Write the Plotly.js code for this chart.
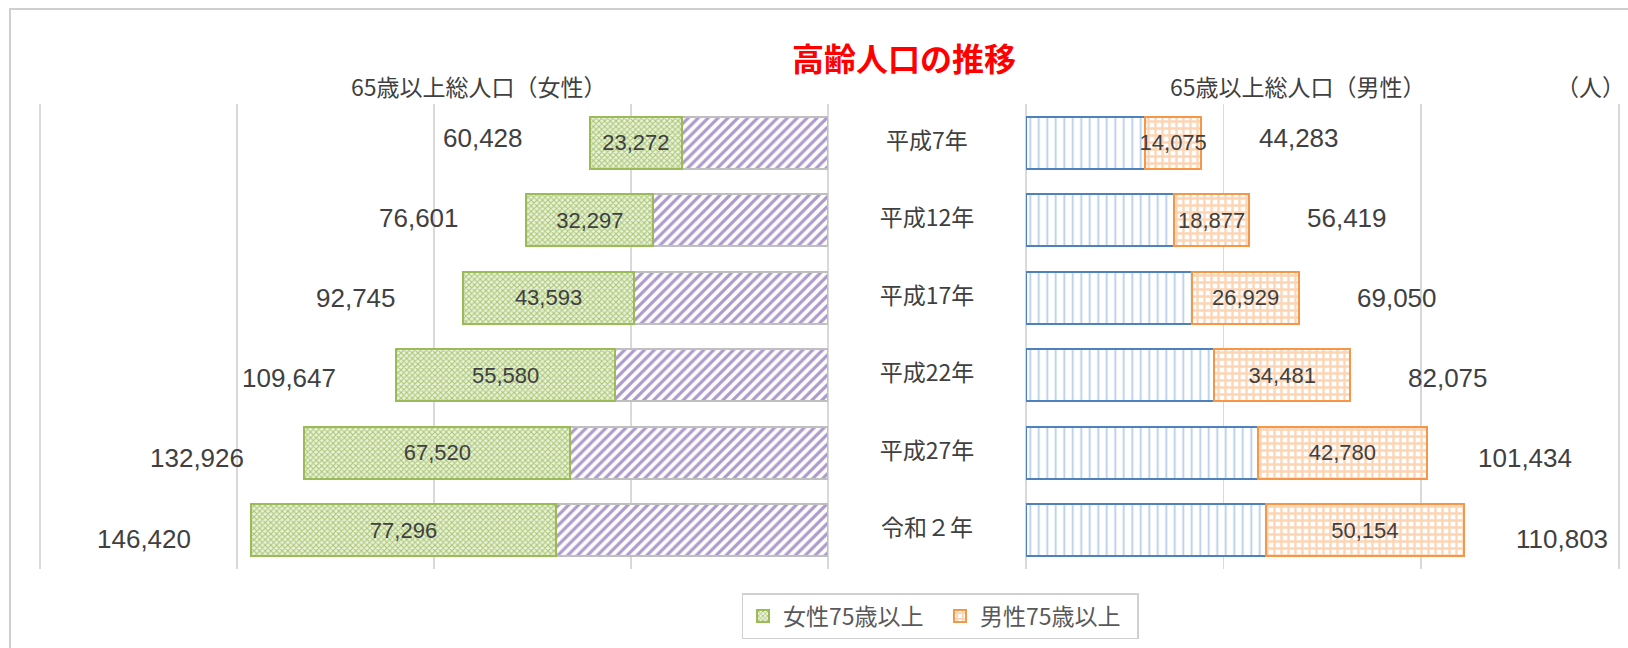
<!DOCTYPE html>
<html>
<head>
<meta charset="utf-8">
<script src="https://cdn.plot.ly/plotly-3.0.1.min.js"></script>
<style>html,body{margin:0;padding:0;background:#fff;}#chart{width:1628px;height:648px;}</style>
</head>
<body>
<div id="chart"></div>
<script>
// ---- data ----
const categories = ['平成7年', '平成12年', '平成17年', '平成22年', '平成27年', '令和２年'];
const femaleTotal = [60428, 76601, 92745, 109647, 132926, 146420];
const female75 = [23272, 32297, 43593, 55580, 67520, 77296];
const maleTotal = [44283, 56419, 69050, 82075, 101434, 110803];
const male75 = [14075, 18877, 26929, 34481, 42780, 50154];
const titleText = '高齢人口の推移';
const femaleHeader = '65歳以上総人口（女性）';
const maleHeader = '65歳以上総人口（男性）';
const unitText = '（人）';
const legendFemale = '女性75歳以上';
const legendMale = '男性75歳以上';

// derived
const female6574 = femaleTotal.map((t, i) => t - female75[i]);
const male6574 = maleTotal.map((t, i) => t - male75[i]);
const fmt = v => v.toLocaleString('en-US');

const W = 1628, H = 648;
const px = x => x / W;
const py = y => 1 - y / H;
const NUM = 'Liberation Sans, Arial, sans-serif';
const JP = 'Noto Sans CJK JP, sans-serif';

const traces = [
  {
    type: 'bar', orientation: 'h', xaxis: 'x', yaxis: 'y',
    y: categories, x: female6574, name: '女性65-74歳', showlegend: false,
    marker: {color: '#ffffff', line: {color: '#bfbfbf', width: 2},
      pattern: {shape: '/', fgcolor: '#ad9acb', bgcolor: '#ffffff', size: 7, solidity: 0.45}},
    hoverinfo: 'skip'
  },
  {
    type: 'bar', orientation: 'h', xaxis: 'x', yaxis: 'y',
    y: categories, x: female75, name: legendFemale,
    text: female75.map(fmt), textposition: 'inside', insidetextanchor: 'middle', textangle: 0,
    textfont: {family: NUM, size: 22, color: '#404040'},
    marker: {color: '#ffffff', line: {color: '#9bbb59', width: 2},
      pattern: {shape: 'x', fgcolor: '#a9c76e', bgcolor: '#eaf1dd', size: 4, solidity: 0.45}},
    hoverinfo: 'skip'
  },
  {
    type: 'bar', orientation: 'h', xaxis: 'x2', yaxis: 'y',
    y: categories, x: male6574, name: '男性65-74歳', showlegend: false,
    marker: {color: '#ffffff', line: {color: '#4f81bd', width: 2},
      pattern: {shape: '|', fgcolor: '#b3cbe9', bgcolor: '#ffffff', size: 8.5, solidity: 0.2}},
    hoverinfo: 'skip'
  },
  {
    type: 'bar', orientation: 'h', xaxis: 'x2', yaxis: 'y',
    y: categories, x: male75, name: legendMale,
    text: male75.map(fmt), textposition: 'inside', insidetextanchor: 'middle', textangle: 0,
    textfont: {family: NUM, size: 22, color: '#404040'},
    marker: {color: '#ffffff', line: {color: '#f79646', width: 2},
      pattern: {shape: '+', fgcolor: '#fcd5b4', bgcolor: '#ffffff', size: 7, solidity: 0.55}},
    hoverinfo: 'skip'
  },
  {
    type: 'scatter', mode: 'text', xaxis: 'x3', yaxis: 'y',
    y: categories, x: categories.map(() => 0), text: categories,
    textposition: 'middle center', showlegend: false, hoverinfo: 'skip',
    textfont: {family: JP, size: 23, color: '#404040'}
  }
];

const annotations = [];
femaleTotal.forEach((v, i) => annotations.push({
  xref: 'x', yref: 'y3', x: v, y: categories[i], text: fmt(v), showarrow: false,
  xanchor: 'center', yanchor: 'middle', xshift: -107,
  font: {family: NUM, size: 26, color: '#404040'}
}));
maleTotal.forEach((v, i) => annotations.push({
  xref: 'x2', yref: 'y3', x: v, y: categories[i], text: fmt(v), showarrow: false,
  xanchor: 'center', yanchor: 'middle', xshift: 98,
  font: {family: NUM, size: 26, color: '#404040'}
}));
annotations.push(
  {xref: 'paper', yref: 'paper', x: px(479), y: py(86), text: femaleHeader, showarrow: false,
   xanchor: 'center', yanchor: 'middle', font: {family: JP, size: 23, color: '#404040'}},
  {xref: 'paper', yref: 'paper', x: px(1298), y: py(86), text: maleHeader, showarrow: false,
   xanchor: 'center', yanchor: 'middle', font: {family: JP, size: 23, color: '#404040'}},
  {xref: 'paper', yref: 'paper', x: px(1627), y: py(86), text: unitText, showarrow: false,
   xanchor: 'right', yanchor: 'middle', font: {family: JP, size: 23, color: '#404040'}}
);

const yDomain = [py(569), py(104)];
const layout = {
  width: W, height: H,
  margin: {l: 0, r: 0, t: 0, b: 0},
  paper_bgcolor: '#ffffff', plot_bgcolor: 'rgba(0,0,0,0)',
  barmode: 'stack', bargap: 0.33,
  uniformtext: {mode: 'show', minsize: 22},
  title: {text: titleText, x: px(904), xanchor: 'center', y: py(60), yanchor: 'middle',
    font: {family: JP, size: 32, color: '#ff0000', weight: 'bold'}},
  xaxis: {domain: [px(39), px(828)], range: [200300, 0], tick0: 0, dtick: 50000,
    showgrid: true, gridcolor: '#d9d9d9', gridwidth: 1.5, showticklabels: false,
    zeroline: true, zerolinecolor: '#d9d9d9', zerolinewidth: 1.5, showline: false, ticks: '', fixedrange: true},
  xaxis2: {domain: [px(1026), px(1620)], range: [0, 150300], tick0: 0, dtick: 50000, anchor: 'y',
    showgrid: true, gridcolor: '#d9d9d9', gridwidth: 1.5, showticklabels: false,
    zeroline: true, zerolinecolor: '#d9d9d9', zerolinewidth: 1.5, showline: false, ticks: '', fixedrange: true},
  xaxis3: {domain: [px(828), px(1026)], range: [-1, 1], visible: false, anchor: 'y', fixedrange: true},
  yaxis: {domain: yDomain, type: 'category', categoryorder: 'array', categoryarray: categories,
    range: [5.5, -0.5], showticklabels: false, showgrid: false, zeroline: false, ticks: '', fixedrange: true},
  yaxis3: {overlaying: 'y', type: 'category', categoryorder: 'array', categoryarray: categories,
    range: [5.38, -0.418], visible: false, fixedrange: true},
  showlegend: true,
  legend: {orientation: 'h', x: px(940), xanchor: 'center', y: py(593), yanchor: 'top',
    bordercolor: '#d0d0d0', borderwidth: 1.5, bgcolor: '#ffffff', entrywidth: 152,
    font: {family: JP, size: 23, color: '#595959'}, traceorder: 'normal'},
  annotations: annotations,
  shapes: [{type: 'rect', xref: 'paper', yref: 'paper', x0: px(10), y0: py(9), x1: px(1660), y1: py(680),
    line: {color: '#cfcfcf', width: 2}, fillcolor: 'rgba(0,0,0,0)', layer: 'below'}]
};

Plotly.newPlot('chart', traces, layout, {displayModeBar: false, staticPlot: true});
</script>
</body>
</html>
